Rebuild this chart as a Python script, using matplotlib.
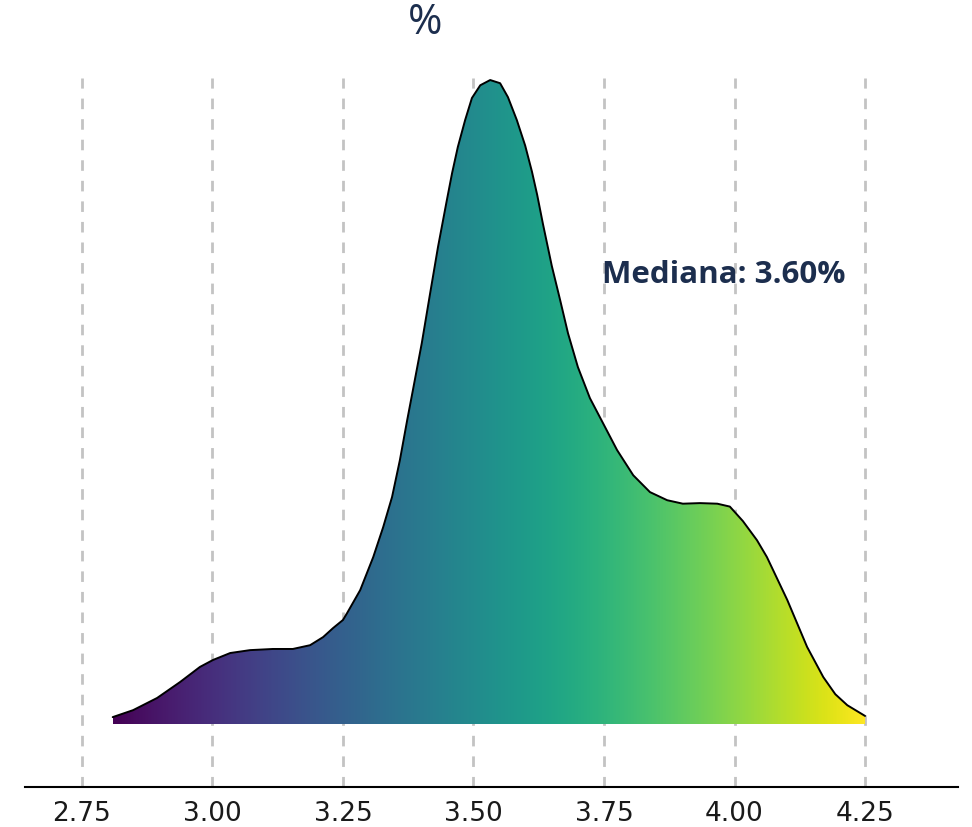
import numpy as np
import matplotlib.pyplot as plt
from matplotlib.patches import Polygon

# Density curve (x = rate in %, y = density)
tasa = [2.809, 2.848, 2.894, 2.938, 2.976, 3.001, 3.034, 3.072, 3.116, 3.154,
        3.187, 3.212, 3.231, 3.250, 3.258, 3.283, 3.308, 3.327, 3.344, 3.359,
        3.373, 3.384, 3.401, 3.417, 3.432, 3.449, 3.459, 3.470, 3.484, 3.497,
        3.513, 3.532, 3.551, 3.566, 3.583, 3.599, 3.612, 3.622, 3.633, 3.650,
        3.666, 3.681, 3.700, 3.723, 3.748, 3.775, 3.806, 3.838, 3.871, 3.901,
        3.934, 3.967, 3.991, 4.016, 4.043, 4.062, 4.101, 4.139, 4.170, 4.193,
        4.216, 4.250]
densidad = [0.024, 0.048, 0.090, 0.145, 0.197, 0.221, 0.245, 0.255, 0.259, 0.259,
            0.272, 0.300, 0.331, 0.359, 0.383, 0.462, 0.576, 0.679, 0.783, 0.910,
            1.048, 1.152, 1.314, 1.486, 1.645, 1.807, 1.900, 1.990, 2.083, 2.159,
            2.203, 2.221, 2.210, 2.162, 2.083, 1.995, 1.905, 1.825, 1.725, 1.580,
            1.462, 1.348, 1.231, 1.124, 1.038, 0.945, 0.858, 0.800, 0.772, 0.760,
            0.762, 0.760, 0.750, 0.700, 0.634, 0.576, 0.428, 0.266, 0.162, 0.103,
            0.065, 0.028]

ticks = [2.75, 3.00, 3.25, 3.50, 3.75, 4.00, 4.25]
tick_labels = ['2.75', '3.00', '3.25', '3.50', '3.75', '4.00', '4.25']

titulo = '%'
mediana_txt = 'Mediana: 3.60%'
navy = '#1c2e4e'

fig = plt.figure(figsize=(9.72, 8.27), dpi=100)
ax = fig.add_axes([25 / 972, 1 - 787 / 827, (958 - 25) / 972, (787 - 78) / 827])

# dashed vertical grid
for t in ticks:
    ax.axvline(t, color='#c3c3c3', lw=2, ls=(0, (3.8, 3.6)), zorder=0)

# gradient filled density
verts = [(tasa[0], 0)] + list(zip(tasa, densidad)) + [(tasa[-1], 0)]
poly = Polygon(verts, closed=True, facecolor='none', edgecolor='none')
ax.add_patch(poly)
grad = np.linspace(0, 1, 512).reshape(1, -1)
im = ax.imshow(grad, cmap='viridis', aspect='auto', interpolation='bilinear',
               extent=[tasa[0], tasa[-1], 0, max(densidad)], zorder=2)
im.set_clip_path(poly)
ax.plot(tasa, densidad, color='black', lw=1.4, zorder=3,
        solid_joinstyle='round', solid_capstyle='round')

ax.text(3.746, 1.548, mediana_txt, fontsize=22.5, fontweight='bold', color=navy,
        family=['Open Sans', 'DejaVu Sans'], ha='left', va='center', zorder=4)

ax.set_xlim(2.641, 4.428)
ax.set_ylim(-0.217, 2.228)
ax.set_xticks(ticks)
ax.set_xticklabels(tick_labels, fontsize=19, color='#1a1a1a')
ax.tick_params(axis='x', length=0, pad=10)
ax.set_yticks([])
for s in ['top', 'left', 'right']:
    ax.spines[s].set_visible(False)
ax.spines['bottom'].set_linewidth(1.5)

fig.text(425 / 972, 1 - 23 / 827, titulo, fontsize=30, color=navy,
         family=['Open Sans', 'DejaVu Sans'], ha='center', va='center')

fig.savefig('out.png', dpi=100)
